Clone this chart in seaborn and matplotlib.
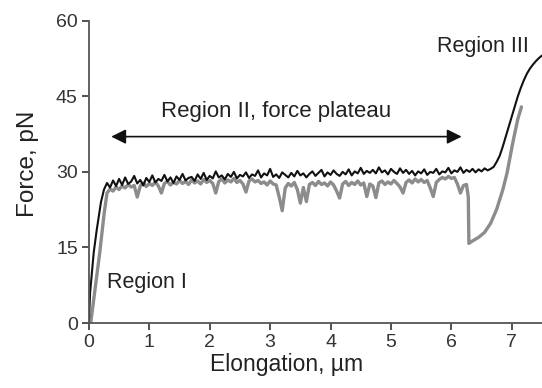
import numpy as np
import pandas as pd
import matplotlib
matplotlib.use("Agg")
import matplotlib.pyplot as plt
import seaborn as sns

# stretching trace (black): steep initial rise, then sampled every 0.05 um
stretch_rise_x = [0.0, 0.02, 0.08, 0.13, 0.20]
stretch_rise_f = [0.0, 6.0, 14.0, 18.5, 24.0]
stretch_grid_x = np.round(np.arange(0.25, 7.5001, 0.05), 2)
stretch_grid_f = [
    26.5, 27.8, 26.9, 28.3, 27.2, 28.6, 27.4, 28.9, 27.6, 28.1,
    29.2, 27.7, 28.4, 27.3, 28.8, 28.0, 29.3, 27.9, 28.6, 28.2,
    29.4, 28.1, 28.9, 27.8, 29.1, 28.4, 29.6, 28.3, 28.8, 29.0,
    28.2, 29.5, 28.6, 29.8, 28.4, 29.2, 28.7, 30.1, 28.9, 29.3,
    28.5, 29.6, 29.0, 30.0, 28.7, 29.4, 29.1, 29.9, 28.8, 29.5,
    29.2, 30.3, 28.9, 29.7, 29.3, 30.6, 29.0, 29.5, 28.8, 29.9,
    29.4, 28.9, 29.8, 29.1, 30.2, 29.3, 29.7, 28.9, 29.6, 30.1,
    29.2, 29.8, 30.4, 29.1, 29.9, 29.4, 30.3, 29.6, 29.2, 30.0,
    29.5, 30.5, 29.3, 30.1, 29.7, 30.8, 29.6, 30.2, 29.8, 30.4,
    29.7, 30.9, 29.9, 30.3, 29.5, 30.6, 30.0, 29.6, 30.7, 29.8,
    30.4, 29.6, 30.2, 29.3, 30.1, 29.7, 30.5, 29.4, 30.0, 29.8,
    30.6, 29.5, 30.1, 29.9, 30.8, 29.7, 30.3, 30.0, 30.9, 29.8,
    30.4, 30.0, 30.6, 29.9, 30.5, 30.1, 30.7, 30.3, 30.6, 31.0,
    32.0, 33.2, 35.0, 37.0, 39.0, 41.0, 43.0, 45.0, 46.7, 48.2,
    49.5, 50.5, 51.3, 52.0, 52.6, 53.1,
]

# relaxation trace (grey)
relax_rise_x = [0.03, 0.10, 0.18, 0.25]
relax_rise_f = [0.0, 6.5, 14.0, 21.5]
relax_grid_x = np.round(np.arange(0.30, 6.2501, 0.05), 2)
relax_grid_f = [
    25.8, 26.6, 26.2, 27.0, 26.5, 27.2, 26.8, 27.5, 27.0, 27.3,
    25.0, 27.2, 27.8, 27.1, 27.7, 27.3, 28.0, 27.2, 25.8, 27.7,
    28.1, 27.4, 27.9, 27.6, 28.3, 27.7, 28.1, 27.5, 28.4, 27.8,
    28.2, 27.6, 28.5, 27.9, 28.3, 27.7, 25.8, 28.1, 28.6, 27.8,
    28.4, 28.0, 28.7, 27.9, 28.3, 27.6, 26.0, 28.2, 28.6, 28.0,
    28.3, 27.7, 28.0, 27.4, 28.2, 27.6, 27.4, 25.0, 22.3, 26.8,
    27.7, 27.2, 27.9, 26.5, 23.8, 26.9, 24.1, 27.5, 27.9, 27.3,
    28.1, 27.5, 27.8, 27.2, 28.0, 27.4, 26.2, 24.8, 27.6, 28.1,
    27.3, 27.9, 27.5, 28.2, 27.4, 27.8, 25.1, 27.6, 27.2, 24.9,
    27.8, 28.2, 27.5, 28.0, 27.6, 28.3, 27.7, 27.0, 25.8, 27.9,
    28.4, 27.8, 28.6, 28.0, 28.5, 27.9, 28.3, 26.8, 25.1, 27.9,
    28.5, 28.9, 28.6, 29.1, 28.7, 28.9, 27.6, 25.8, 27.3, 27.5,
]
relax_tail_x = [6.28, 6.29, 6.35, 6.45, 6.55, 6.65, 6.75, 6.85, 6.92, 7.02, 7.10, 7.16]
relax_tail_f = [25.0, 15.8, 16.3, 17.0, 18.0, 19.8, 22.6, 26.4, 29.7, 36.0, 40.5, 42.9]

x_ticks = [0, 1, 2, 3, 4, 5, 6, 7]
y_ticks = [0, 15, 30, 45, 60]

stretch = pd.DataFrame({
    "x": np.concatenate([stretch_rise_x, stretch_grid_x]),
    "f": stretch_rise_f + stretch_grid_f,
})
relax = pd.DataFrame({
    "x": np.concatenate([relax_rise_x, relax_grid_x, relax_tail_x]),
    "f": relax_rise_f + relax_grid_f + relax_tail_f,
})

sns.set_style("ticks")
plt.rcParams["font.family"] = ["Liberation Sans", "DejaVu Sans"]

fig = plt.figure(figsize=(5.42, 3.88), dpi=100)
ax = fig.add_axes([0.164, 0.1675, 0.836, 0.779])

sns.lineplot(data=relax, x="x", y="f", sort=False, estimator=None,
             color="#8c8c8c", lw=2.4, ax=ax)
sns.lineplot(data=stretch, x="x", y="f", sort=False, estimator=None,
             color="#111111", lw=1.5, ax=ax)

ax.set_xlim(0, 7.5)
ax.set_ylim(0, 60)
ax.set_xticks(x_ticks)
ax.set_yticks(y_ticks)
ax.set_xlabel("Elongation, µm", fontsize=16.5, color="#222222", labelpad=1)
ax.set_ylabel("Force, pN", fontsize=17.5, color="#222222", labelpad=12)
ax.xaxis.label.set_x(0.437)
ax.yaxis.label.set_y(0.528)
ax.tick_params(labelsize=14, colors="#333333", length=5, width=1.2, pad=3)
for s in ["left", "bottom"]:
    ax.spines[s].set_color("#555555")
    ax.spines[s].set_linewidth(1.3)
sns.despine(ax=ax)

ax.annotate("", xy=(0.37, 37), xytext=(6.17, 37),
            arrowprops=dict(arrowstyle="<|-|>", color="#111111", lw=1.2,
                            mutation_scale=22, shrinkA=0, shrinkB=0))
ax.text(3.1, 41.9, "Region II, force plateau", ha="center", va="center",
        fontsize=16, color="#222222")
ax.text(0.3, 8.1, "Region I", ha="left", va="center", fontsize=15.5, color="#222222")
ax.text(6.53, 54.8, "Region III", ha="center", va="center", fontsize=15.5, color="#222222")

fig.savefig("out.png", dpi=100)
